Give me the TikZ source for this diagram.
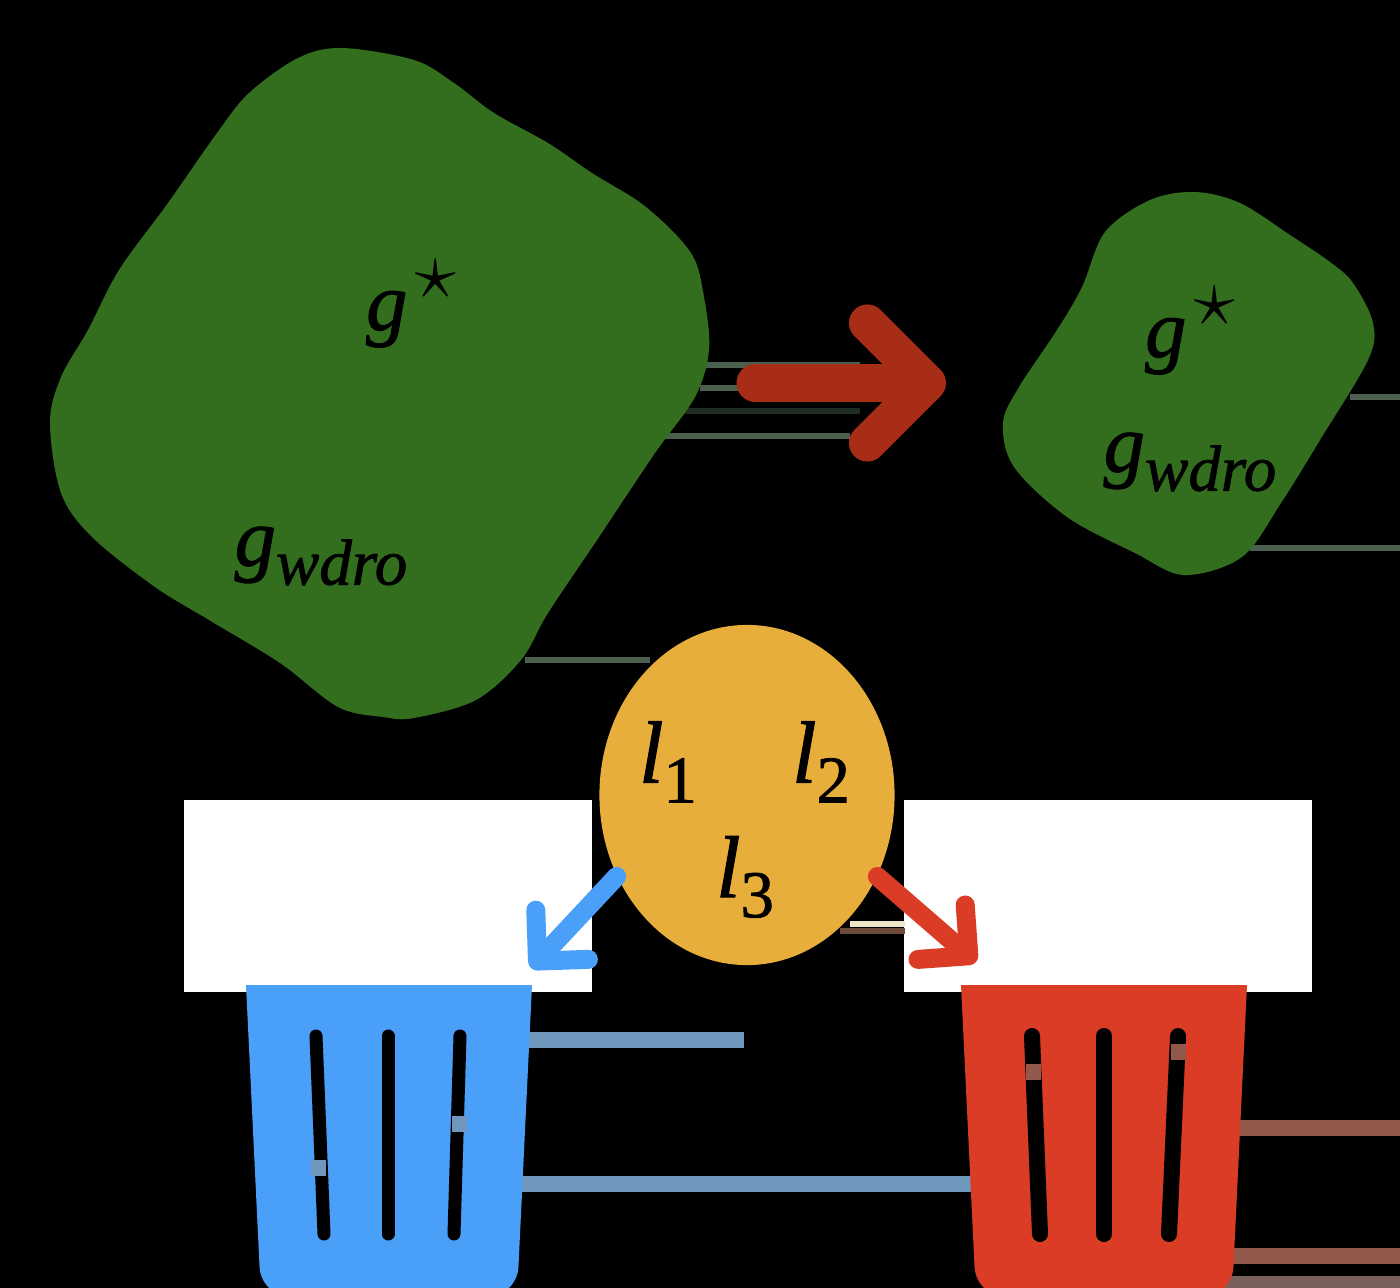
\documentclass[tikz,border=0pt]{standalone}
\usepackage{fontspec}
\usepackage{fix-cm}
\setmainfont{Liberation Serif}[FakeBold=1.2]
\usetikzlibrary{shapes.geometric,arrows.meta}
\definecolor{blobgreen}{HTML}{326E1E}
\definecolor{darkred}{HTML}{A82D17}
\definecolor{binblue}{HTML}{4A9FF8}
\definecolor{binred}{HTML}{DA3C25}
\definecolor{lossyellow}{HTML}{E8AE3C}
\definecolor{streakblue}{HTML}{7097BC}
\definecolor{streakred}{HTML}{91584C}
\definecolor{streakdim}{HTML}{7A605B}
\definecolor{faintgreen}{HTML}{4A5F4D}
\definecolor{faintdark}{HTML}{1E2C22}
\definecolor{faintcream}{HTML}{EFE6C8}
\definecolor{faintbrown}{HTML}{6B4A38}
\newcommand{\gstarlbl}{\textit{g}\raisebox{0.31cm}{\hspace{0.08cm}$\star$}}
\newcommand{\gwdrolbl}{\textit{g}\raisebox{-0.19cm}{\fontsize{18.5}{20}\selectfont\textit{wdro}}}
\newcommand{\llbl}[1]{\fontsize{25}{28}\selectfont\textit{l}\raisebox{-0.2cm}{\fontsize{19}{20}\selectfont #1}}
\tikzset{
    blob/.style={fill=blobgreen},
    lbl/.style={inner sep=0pt,text=black,font=\fontsize{23.5}{28}\selectfont},
    slot/.style={draw=black,line cap=round},
    streak/.style={line width=0.16cm},
    faint/.style={line width=0.065cm},
    pointer/.style={line cap=round,line join=round,-{Straight Barb[length=#1,width=2*#1,line cap=round,line join=round]}},
}
\begin{document}
\begin{tikzpicture}[x=0.01cm,y=-0.01cm]
    \useasboundingbox (0,0) rectangle (1400,1288);
    \fill[black] (0,0) rectangle (1400,1288);

    \fill[white] (184,800) rectangle (592,992);
    \fill[white] (904,800) rectangle (1312,992);

    % leftover streaks
    \foreach \xa/\ya/\xb/\c in {700/365/860/faintgreen,700/388/740/faintgreen,680/411/860/faintdark,665/436/850/faintgreen,
        525/660/650/faintgreen,1350/397/1400/faintgreen,1250/548/1400/faintgreen,850/924/905/faintcream,840/931/905/faintbrown} {
        \draw[faint,draw=\c] (\xa,\ya) -- (\xb,\ya);
    }
    \foreach \xa/\ya/\xb/\c in {520/1040/744/streakblue,510/1184/975/streakblue,1225/1128/1400/streakred,1225/1256/1400/streakred,1215/1284/1400/streakdim} {
        \draw[streak,draw=\c] (\xa,\ya) -- (\xb,\ya);
    }

    % solution sets
    \fill[blob] plot[smooth cycle,tension=0.55] coordinates {(342,48) (414,60) (454,83) (494,113) (548,143) (592,173) (646,207) (691,253) (704,297) (709,350) (695,397) (655,453) (597,540) (548,613) (521,660) (476,700) (414,718) (383,717) (338,707) (280,663) (209,620) (155,587) (92,537) (61,493) (50,423) (61,377) (88,330) (119,270) (168,203) (217,133) (249,93) (298,58)};
    \fill[blob] plot[smooth cycle,tension=0.55] coordinates {(1195,192) (1240,203) (1290,235) (1330,262) (1353,283) (1373,323) (1368,360) (1320,440) (1281,503) (1242,557) (1184,575) (1135,553) (1067,517) (1014,467) (1003,423) (1019,387) (1057,330) (1082,287) (1105,232) (1150,200)};

    \node[lbl] (gstarbig) at (411,304) {\gstarlbl};
    \node[lbl] (gwdrobig) at (321,556) {\gwdrolbl};
    \node[lbl] (gstarsmall) at (1190,331) {\gstarlbl};
    \node[lbl] (gwdrosmall) at (1190,462) {\gwdrolbl};

    \coordinate (shrinkstart) at (755,383);
    \coordinate (shrinkend) at (946,383);
    \draw[pointer=0.6cm,draw=darkred,line width=0.37cm] (shrinkstart) -- (shrinkend);

    % bins
    \fill[binblue] (246,985) -- (532,985) [rounded corners=0.3cm] -- (517,1297) -- (261,1297) [sharp corners] -- cycle;
    \fill[binred] (961,985) -- (1247,985) [rounded corners=0.3cm] -- (1232,1297) -- (976,1297) [sharp corners] -- cycle;
    \foreach \xa/\xb in {316/324,388/388,460/454} {
        \draw[slot,line width=0.13cm] (\xa,1036) -- (\xb,1234);
    }
    \foreach \xa/\xb in {1032/1040,1104/1104,1178/1169} {
        \draw[slot,line width=0.16cm] (\xa,1036) -- (\xb,1234);
    }
    \foreach \xa/\ya/\c in {318/1168/streakblue,459/1124/streakblue,1033/1072/streakred,1178/1052/streakred} {
        \draw[streak,line width=0.15cm,draw=\c] (\xa,\ya-8) -- (\xa,\ya+8);
    }

    % losses
    \node[ellipse,fill=lossyellow,minimum width=2.95cm,minimum height=3.4cm,inner sep=0pt] (loss) at (747,795) {};
    \node[lbl] (l1) at (668,762) {\llbl{1}};
    \node[lbl] (l2) at (821,762) {\llbl{2}};
    \node[lbl] (l3) at (745,877) {\llbl{3}};

    \coordinate (blueend) at (531,968);
    \coordinate (redend) at (976,962);
    \draw[pointer=0.36cm,draw=binblue,line width=0.19cm] (loss.212) -- (blueend);
    \draw[pointer=0.36cm,draw=binred,line width=0.19cm] (loss.-32) -- (redend);
\end{tikzpicture}
\end{document}
